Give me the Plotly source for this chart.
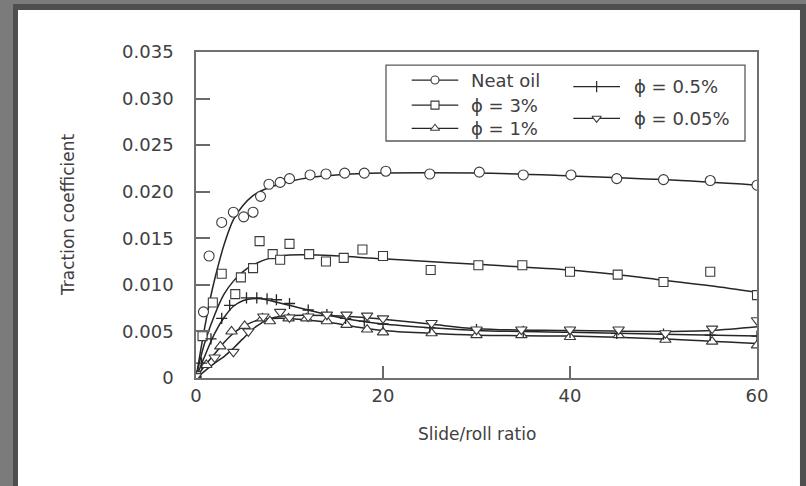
import plotly.graph_objects as go

# ---------------- data ----------------
# Neat oil (circles)
x_neat = [0, 0.8, 1.4, 2.75, 4.0, 5.1, 6.1, 6.9, 7.8, 9.0, 10.0, 12.2, 13.9, 15.9,
          18.0, 20.3, 25.0, 30.3, 35.0, 40.1, 45.0, 50.0, 55.0, 60.0]
y_neat = [0.0002, 0.0071, 0.0131, 0.0167, 0.0178, 0.0173, 0.0178, 0.0195, 0.0208,
          0.0210, 0.0214, 0.0218, 0.0219, 0.0220, 0.0220, 0.0222, 0.0219, 0.0221,
          0.0218, 0.0218, 0.0214, 0.0213, 0.0212, 0.0207]
xc_neat = [0, 0.5, 1, 1.5, 2, 3, 4, 5, 6, 7, 8, 10, 12, 15, 20, 30, 40, 50, 60]
yc_neat = [0, 0.0030, 0.0058, 0.0084, 0.0106, 0.0143, 0.0170, 0.0185, 0.0195,
           0.0201, 0.0205, 0.0211, 0.0215, 0.0218, 0.0220, 0.0220, 0.0217, 0.0213, 0.0207]

# phi = 3 % (squares)
x_3 = [0, 0.7, 1.8, 2.75, 4.2, 4.8, 6.1, 6.8, 8.2, 9.0, 10.0, 12.1, 13.9, 15.8,
       17.8, 20.0, 25.1, 30.2, 34.9, 40.0, 45.1, 50.0, 55.0, 60.0]
y_3 = [0.0002, 0.0045, 0.0081, 0.0112, 0.0090, 0.0108, 0.0118, 0.0147, 0.0133,
       0.0127, 0.0144, 0.0133, 0.0125, 0.0129, 0.0138, 0.0131, 0.0116, 0.0121,
       0.0121, 0.0114, 0.0111, 0.0103, 0.0114, 0.0089]
xc_3 = [0, 0.5, 1, 2, 3, 4, 5, 6, 8, 10, 13, 20, 30, 40, 45, 50, 55, 60]
yc_3 = [0, 0.0022, 0.0040, 0.0068, 0.0090, 0.0104, 0.0114, 0.0121, 0.0129,
        0.0132, 0.0132, 0.0128, 0.0122, 0.0116, 0.0111, 0.0105, 0.0099, 0.0092]

# phi = 1 % (up triangles)
x_1 = [0, 1.1, 2.6, 3.8, 5.2, 7.1, 7.9, 9.9, 11.8, 14.0, 16.1, 18.3, 20.0, 25.2,
       30.0, 34.8, 40.0, 45.2, 50.2, 55.2, 60.0]
y_1 = [0.0001, 0.0014, 0.0034, 0.0050, 0.0056, 0.0064, 0.0061, 0.0064, 0.0064,
       0.0061, 0.0057, 0.0052, 0.0049, 0.0048, 0.0046, 0.0046, 0.0044, 0.0046,
       0.0041, 0.0039, 0.0035]
xc_1 = [0, 1, 2, 3, 4, 5, 6, 7, 8, 10, 12, 14, 17, 20, 25, 30, 40, 50, 60]
yc_1 = [0, 0.0014, 0.0026, 0.0038, 0.0048, 0.0055, 0.0060, 0.0063, 0.0064,
        0.0064, 0.0062, 0.0060, 0.0055, 0.0051, 0.0048, 0.0046, 0.0045, 0.0042, 0.0037]

# phi = 0.5 % (plus)
x_05 = [0, 0.6, 1.6, 2.75, 3.6, 5.4, 6.5, 7.6, 8.6, 10.0, 12.0, 14.0, 16.0, 18.0,
        20.0, 25.0, 30.0, 35.0, 40.0, 45.0, 50.0, 55.0, 60.0]
y_05 = [0.0001, 0.0016, 0.0042, 0.0064, 0.0078, 0.0086, 0.0086, 0.0085, 0.0084,
        0.0080, 0.0073, 0.0068, 0.0064, 0.0061, 0.0058, 0.0054, 0.0052, 0.0050,
        0.0049, 0.0048, 0.0047, 0.0046, 0.0045]
xc_05 = [0, 1, 2, 3, 4, 5, 6, 7, 8, 10, 12, 14, 17, 20, 25, 30, 40, 50, 60]
yc_05 = [0, 0.0025, 0.0048, 0.0065, 0.0077, 0.0083, 0.0085, 0.0085, 0.0083,
         0.0078, 0.0073, 0.0068, 0.0062, 0.0058, 0.0054, 0.0051, 0.0049, 0.0047, 0.0045]

# phi = 0.05 % (down triangles)
x_005 = [0, 2.0, 4.0, 5.6, 7.2, 9.0, 10.0, 12.0, 14.0, 16.1, 18.3, 20.0, 25.2,
         30.0, 34.8, 40.0, 45.2, 50.2, 55.2, 60.0]
y_005 = [0.0002, 0.0022, 0.0028, 0.0050, 0.0066, 0.0071, 0.0065, 0.0066, 0.0068,
         0.0068, 0.0067, 0.0064, 0.0059, 0.0052, 0.0052, 0.0052, 0.0052, 0.0048,
         0.0053, 0.0062]
xc_005 = [0, 1, 2, 3, 4, 5, 6, 7, 8, 10, 14, 18, 20, 25, 30, 40, 50, 55, 60]
yc_005 = [0, 0.0008, 0.0016, 0.0023, 0.0032, 0.0042, 0.0052, 0.0059, 0.0064,
          0.0067, 0.0067, 0.0065, 0.0063, 0.0058, 0.0053, 0.0051, 0.0050, 0.0051, 0.0055]

x_ticks = [0, 20, 40, 60]
y_ticks = [0, 0.005, 0.010, 0.015, 0.020, 0.025, 0.030, 0.035]
y_ticktext = ["0", "0.005", "0.010", "0.015", "0.020", "0.025", "0.030", "0.035"]

labels = ["Neat oil", "\u03d5 = 3%", "\u03d5 = 1%", "\u03d5 = 0.5%", "\u03d5 = 0.05%"]
symbols = ["circle", "square", "triangle-up", "cross-thin", "triangle-down"]

# ---------------- styling ----------------
FONT = "DejaVu Sans"
TXT = "#404040"
LINE = "#262626"
MK_LINE = "#3a3a3a"
sizes = [10, 9, 10, 8, 10]

series = [
    (x_neat, y_neat, xc_neat, yc_neat),
    (x_3, y_3, xc_3, yc_3),
    (x_1, y_1, xc_1, yc_1),
    (x_05, y_05, xc_05, yc_05),
    (x_005, y_005, xc_005, yc_005),
]

fig = go.Figure()

# fitted curves
for (xm, ym, xc, yc) in series:
    fig.add_trace(go.Scatter(x=xc, y=yc, mode="lines",
                             line=dict(color=LINE, width=1.5, shape="spline", smoothing=1.0),
                             showlegend=False, hoverinfo="skip"))

# measured points
for i, (xm, ym, xc, yc) in enumerate(series):
    sym = symbols[i]
    if sym == "cross-thin":
        mk = dict(symbol=sym, size=sizes[i], line=dict(color=LINE, width=1.3))
    else:
        mk = dict(symbol=sym, size=sizes[i], color="white",
                  line=dict(color=MK_LINE, width=1.1))
    fig.add_trace(go.Scatter(x=xm, y=ym, mode="markers", marker=mk,
                             name=labels[i], showlegend=False))

# ---------------- hand-made legend (overlay axes in 0..1 units) ----------------
leg_rows = [  # (x of line start, x of line end, y, text x)
    (0.3845, 0.4675, 0.914, 0.4866),
    (0.3845, 0.4675, 0.837, 0.4866),
    (0.3845, 0.4675, 0.766, 0.4866),
    (0.6725, 0.7558, 0.8936, 0.7766),
    (0.6725, 0.7558, 0.7966, 0.7766),
]
annotations = []
for i, (xa, xb, yy, xt) in enumerate(leg_rows):
    fig.add_trace(go.Scatter(x=[xa, xb], y=[yy, yy], mode="lines", xaxis="x2", yaxis="y2",
                             line=dict(color=LINE, width=1.3), showlegend=False,
                             hoverinfo="skip"))
    sym = symbols[i]
    if sym == "cross-thin":
        mk = dict(symbol="line-ns", size=8, line=dict(color=LINE, width=1.2))
    else:
        mk = dict(symbol=sym, size=8, color="white", line=dict(color=MK_LINE, width=1.1))
    fig.add_trace(go.Scatter(x=[(xa + xb) / 2], y=[yy], mode="markers", xaxis="x2",
                             yaxis="y2", marker=mk, showlegend=False, hoverinfo="skip"))
    annotations.append(dict(x=xt, y=yy, xref="x2", yref="y2", text=labels[i],
                            showarrow=False, xanchor="left", yanchor="middle",
                            font=dict(family=FONT, size=18, color=TXT)))

# axis titles
annotations.append(dict(x=-0.228, y=0.5, xref="paper", yref="paper",
                        text="Traction coefficient", textangle=-90, showarrow=False,
                        xanchor="center", yanchor="middle",
                        font=dict(family=FONT, size=17, color=TXT)))
annotations.append(dict(x=0.5, y=-0.172, xref="paper", yref="paper",
                        text="Slide/roll ratio", showarrow=False,
                        xanchor="center", yanchor="middle",
                        font=dict(family=FONT, size=17, color=TXT)))

shapes = [
    # dark outer band
    dict(type="rect", xref="paper", yref="paper", x0=-0.3262, x1=1.0945,
         y0=-0.3436, y1=1.1472, fillcolor="#4f4f4f", line=dict(width=0), layer="below"),
    # white card
    dict(type="rect", xref="paper", yref="paper", x0=-0.3173, x1=1.0766,
         y0=-0.3436, y1=1.1288, fillcolor="white", line=dict(width=0), layer="below"),
    # legend box
    dict(type="rect", xref="paper", yref="paper", x0=0.3387, x1=0.9786,
         y0=0.727, y1=0.960, fillcolor="rgba(0,0,0,0)",
         line=dict(color="#5a5a5a", width=1.3), layer="above"),
]

axis_common = dict(showgrid=False, zeroline=False, showline=True, mirror=True,
                   linecolor="#707070", linewidth=1.5, ticks="inside",
                   tickcolor="#6a6a6a", tickwidth=1.5,
                   tickfont=dict(family=FONT, size=18, color=TXT))

fig.update_layout(
    width=806, height=486,
    margin=dict(l=196, r=49, t=52, b=108),
    paper_bgcolor="#7b7b7b",
    plot_bgcolor="rgba(0,0,0,0)",
    showlegend=False,
    xaxis=dict(range=[0, 60], tickvals=x_ticks, ticklen=12, ticklabelstandoff=1,
               **axis_common),
    yaxis=dict(range=[0, 0.035], tickvals=y_ticks, ticktext=y_ticktext, ticklen=14,
               ticklabelstandoff=17, **axis_common),
    xaxis2=dict(overlaying="x", range=[0, 1], visible=False, anchor="y2"),
    yaxis2=dict(overlaying="y", range=[0, 1], visible=False, anchor="x2"),
    shapes=shapes,
    annotations=annotations,
)

fig.write_html("out.html",
               config={"displayModeBar": False},
               post_script="document.body.style.margin='0';document.body.style.overflow='hidden';")
